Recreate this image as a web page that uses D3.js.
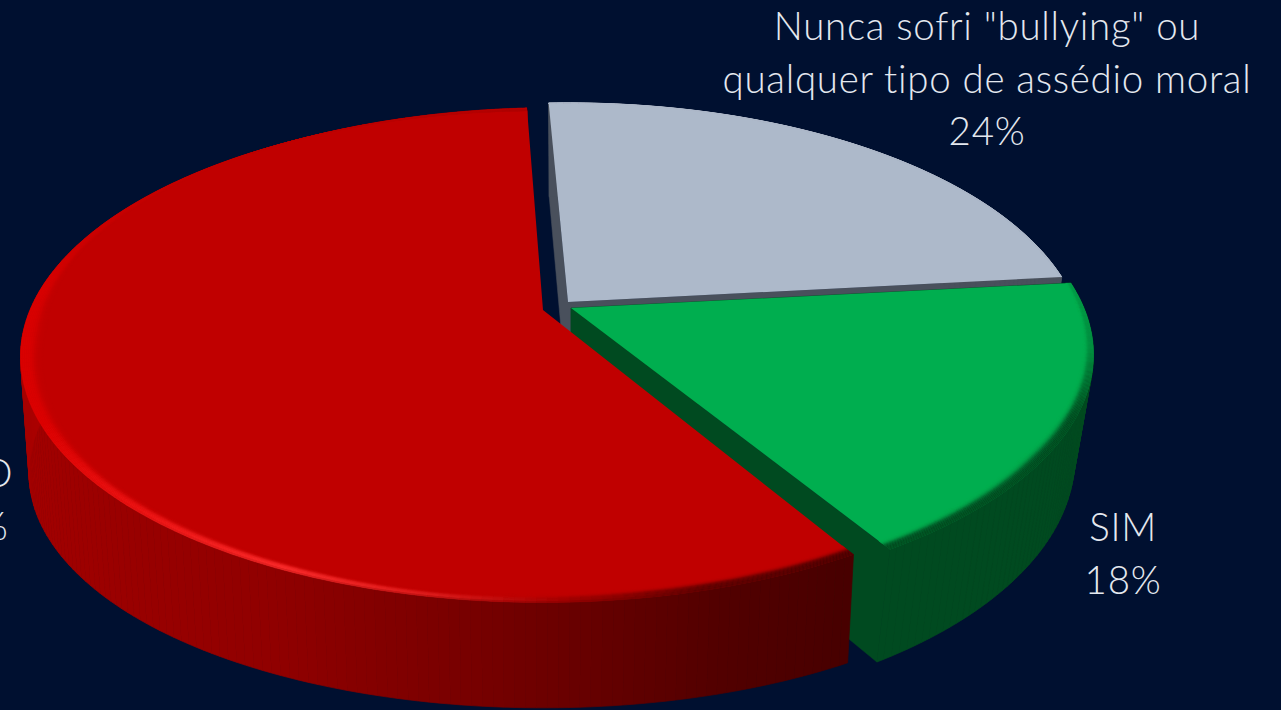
<!DOCTYPE html>
<html><head><meta charset="utf-8">
<script src="https://cdnjs.cloudflare.com/ajax/libs/d3/7.8.5/d3.min.js"></script>
<style>html,body{margin:0;padding:0;background:#001030;overflow:hidden}svg{display:block}text{font-family:Lato,"Open Sans",sans-serif;font-weight:300;font-size:38.5px;letter-spacing:.7px;fill:#e4e8ef}</style>
</head><body><svg id="c" width="1281" height="710"></svg>
<script>
const categories = ["Nunca sofri \"bullying\" ou qualquer tipo de assédio moral", "SIM", "NÃO"];
const percents = [24, 18, 58];
const labelLines = [["Nunca sofri \"bullying\" ou", "qualquer tipo de assédio moral", "24%"], ["SIM", "18%"], ["NÃO", "58%"]];

const W = 1281, H = 710, D = Math.PI / 180;
const svg = d3.select("#c");
svg.append("rect").attr("width", W).attr("height", H).attr("fill", "#001030");

// slice layout from d3.pie
const start = -2.6 * D;
const pie = d3.pie().sort(null).startAngle(start).endAngle(start + 2 * Math.PI);
const arcs = pie(percents);

// perspective projection of the tilted disc
const Rx = 513, Ry = 237, P = 0.19;
const sx = d3.scaleLinear().domain([-1, 1]).range([-Rx, Rx]);
const sy = d3.scaleLinear().domain([-1, 1]).range([Ry, -Ry]);

const looks = [
  { apex: [568, 302], kx: 0.988, depth: 108, qx: 0.033, qy: 0.033, trim: [0, 0], top: "#adb9ca", blend: 0,
    wall: d3.scaleLinear().domain([0, 360]).range(["#49505c", "#49505c"]),
    rim: d3.scaleLinear().domain([0, 360]).range(["#adb9ca", "#adb9ca"]),
    width: d3.scaleLinear().domain([0, 360]).range([0.004, 0.004]) },
  { apex: [571, 308], kx: 1, depth: 106, qx: 0.036, qy: 0.033, trim: [0, 0], top: "#00ae4f", blend: 0,
    wall: d3.scaleLinear().domain([0, 360]).range(["#004a20", "#004a20"]),
    rim: d3.scaleLinear().domain([80, 100, 115, 150]).range(["#00a049", "#008a3e", "#004a20", "#004a20"]),
    width: d3.scaleLinear().domain([80, 100, 125, 150]).range([0.008, 0.02, 0.035, 0.03]) },
  { apex: [543, 310], kx: 1, depth: 132.6, qx: 0.016, qy: 0.119, trim: [1 * D, -0.5 * D], top: "#c00000", blend: 0.3,
    wall: d3.scaleLinear().domain([150, 163, 185, 205, 230, 270, 360]).range(["#480000", "#520000", "#760000", "#900000", "#9c0000", "#aa0000", "#aa0000"]),
    rim: d3.scaleLinear().domain([150, 165, 178, 190, 205, 225, 245, 275, 295, 320]).range(["#480000", "#5a0000", "#a00000", "#e02020", "#ff3030", "#ee1414", "#dc0000", "#d80000", "#c80000", "#c00000"]),
    width: d3.scaleLinear().domain([150, 170, 190, 230, 265, 285, 320]).range([0.03, 0.03, 0.02, 0.03, 0.045, 0.025, 0.004]) }
];
const project = (L, a, r, h) => {
  const u = r * Math.sin(a), v = r * Math.cos(a), w = 1 + P * v;
  return [L.apex[0] + L.kx * sx(u) / (w + L.qx * h), L.apex[1] + (sy(v) + L.depth * h) / (w + L.qy * h)];
};
const line = d3.line();

const deg = a => { let d = a / D; return d < 0 ? d + 360 : d; };
const quad = (L, a0, a1, r0, r1, h0, h1) => line([project(L, a0, r0, h0), project(L, a1, r0, h0), project(L, a1, r1, h1), project(L, a0, r1, h1)]) + "Z";
const blendAt = d3.scaleLinear().domain([190, 240]).range([1, 0]).clamp(true);

arcs.forEach((d, i) => {
  const L = looks[i];
  const a0 = d.startAngle + L.trim[0], a1 = d.endAngle - L.trim[1];
  const g = svg.append("g");
  const steps = d3.range(a0, a1, 1 * D);
  const next = a => Math.min(a + 1 * D, a1);
  // cut faces
  [a0, a1].forEach(a => {
    if (i === 2) return;
    const col = L.wall(deg(a));
    g.append("path").attr("fill", col).attr("stroke", col).attr("stroke-width", 0.5)
      .attr("d", line([project(L, a, 0, 0), project(L, a, 1, 0), project(L, a, 1, 1), project(L, a, 0, 1)]) + "Z");
  });
  // outer wall
  g.selectAll("path.w").data(steps).join("path").attr("class", "w")
    .attr("d", a => quad(L, a, next(a), 1, 1, 0, 1))
    .attr("fill", a => L.wall(deg(a))).attr("stroke", a => L.wall(deg(a))).attr("stroke-width", 0.7);
  // top face
  const ring = steps.concat([a1]).map(a => project(L, a, 1, 0));
  g.append("path").attr("fill", L.top).attr("d", line([project(L, 0, 0, 0), ...ring]) + "Z");
  // soft bevel along the top edge
  const K = 12;
  d3.range(K).forEach(k => {
    g.selectAll("path.b" + k).data(steps).join("path").attr("class", "b" + k)
      .each(function (a) {
        const m = deg(a + 0.5 * D), wd = L.width(m);
        let c = d3.interpolateRgb(L.top, L.rim(m))(d3.easeCubicInOut(Math.min(1, (k + 1) / (K - 1))));
        if (k >= K - 2) c = d3.interpolateRgb(c, L.wall(m))(L.blend * blendAt(m));
        d3.select(this).attr("fill", c).attr("stroke", c).attr("stroke-width", 0.3)
          .attr("d", quad(L, a, next(a), 1 - wd * (K - k) / K, 1 - wd * (K - k - 1) / K, 0, 0));
      });
  });
});

// labels
const labelX = d3.scaleOrdinal().domain(categories).range([987, 1123, -30]);
const labelY = d3.scaleOrdinal().domain(categories).range([40, 541, 487]);
categories.forEach((c, i) => {
  const t = svg.append("text").attr("text-anchor", "middle");
  labelLines[i].forEach((s, j) => t.append("tspan").attr("x", labelX(c)).attr("y", labelY(c) + j * 52.5).text(s));
});
</script></body></html>
